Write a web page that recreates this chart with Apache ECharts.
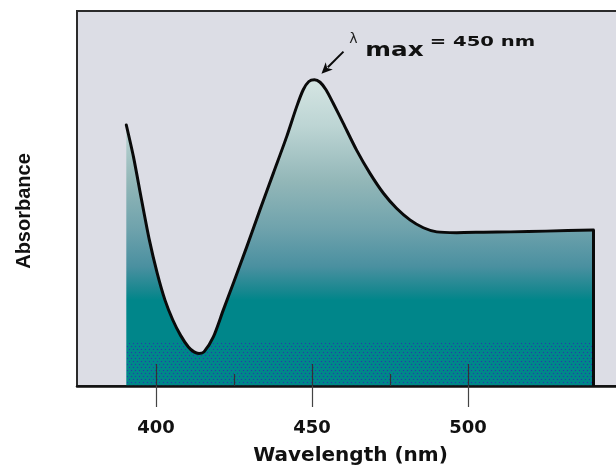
<!DOCTYPE html>
<html><head><meta charset="utf-8">
<script src="https://cdn.jsdelivr.net/npm/echarts@6/dist/echarts.min.js"></script>
<style>html,body{margin:0;padding:0;background:#fff}#c{width:616px;height:466px}</style>
</head><body><div id="c"></div>
<script>
// ---- data ----
const wavelength = [390.5, 392.8, 395.4, 397.9, 400.4, 402.9, 405.4, 407.9, 410.4, 412.2, 413.8, 415.4, 418.4, 421.6, 424.8, 429.1, 433.3, 437.6, 441.9, 445.1, 447.2, 449.0, 450.8, 452.6, 454.5, 456.8, 460.0, 464.3, 468.6, 472.9, 477.1, 481.4, 485.7, 490.0, 496.4, 505.0, 513.7, 525.0, 540.2];
const absorbance = [0.696, 0.611, 0.496, 0.389, 0.301, 0.229, 0.176, 0.135, 0.104, 0.091, 0.087, 0.091, 0.131, 0.203, 0.274, 0.371, 0.469, 0.567, 0.665, 0.745, 0.790, 0.812, 0.817, 0.810, 0.790, 0.754, 0.701, 0.629, 0.567, 0.514, 0.474, 0.443, 0.422, 0.411, 0.409, 0.410, 0.411, 0.413, 0.416];
const majorTicks = [400, 450, 500];
const minorTicks = [425, 475];
const lambdaMax = 450;
const dotBand = 0.115;

const xMin = 374.7, xMax = 550;

const curve = wavelength.map((w, i) => [w, absorbance[i]]);
const dotCurve = wavelength.map((w, i) => [w, Math.min(absorbance[i], dotBand)]);
const last = curve[curve.length - 1];
let peakIdx = 0;
absorbance.forEach((v, i) => { if (v > absorbance[peakIdx]) peakIdx = i; });

// dotted texture
const pat = document.createElement('canvas');
pat.width = 8; pat.height = 6;
const pc = pat.getContext('2d');
pc.fillStyle = 'rgba(45,45,175,0.9)';
[[1,1],[5,1],[3,4],[7,4]].forEach(p => pc.fillRect(p[0], p[1], 1, 1));

const chart = echarts.init(document.getElementById('c'), null, {renderer: 'canvas'});

const baseAxis = {
  type: 'value', min: xMin, max: xMax, gridIndex: 0, position: 'bottom',
  splitLine: {show: false}
};

chart.setOption({
  animation: false,
  backgroundColor: '#ffffff',
  grid: {
    left: 77, top: 11, width: 547, height: 375,
    outerBoundsMode: 'none', containLabel: false,
    show: true, backgroundColor: '#dcdde5', borderColor: '#2b2b2b', borderWidth: 2
  },
  xAxis: [
    Object.assign({}, baseAxis, {
      z: 5,
      name: 'Wavelength (nm)', nameLocation: 'middle', nameGap: 60,
      nameTextStyle: {fontFamily: 'DejaVu Sans', fontWeight: 'bold', fontSize: 20, color: '#111'},
      axisLine: {show: true, lineStyle: {color: '#111', width: 2.5}},
      axisTick: {show: true, inside: false, length: 21, customValues: majorTicks, lineStyle: {color: '#444', width: 1.2}},
      axisLabel: {show: true, customValues: majorTicks, margin: 33, fontFamily: 'DejaVu Sans', fontWeight: 'bold', fontSize: 18, color: '#111'}
    }),
    Object.assign({}, baseAxis, {
      z: 5,
      axisLine: {show: false},
      axisTick: {show: true, inside: true, length: 22, customValues: majorTicks, lineStyle: {color: '#333', width: 1.2}},
      axisLabel: {show: false}
    }),
    Object.assign({}, baseAxis, {
      z: 5,
      axisLine: {show: false},
      axisTick: {show: true, inside: true, length: 12, customValues: minorTicks, lineStyle: {color: '#333', width: 1.2}},
      axisLabel: {show: false}
    })
  ],
  yAxis: {
    type: 'value', min: 0, max: 1,
    axisLine: {show: false}, axisTick: {show: false}, axisLabel: {show: false}, splitLine: {show: false},
    name: 'Absorbance', nameLocation: 'middle', nameGap: 43,
    nameTextStyle: {fontFamily: '"Liberation Sans", Arial, sans-serif', fontWeight: 'bold', fontSize: 20, color: '#111', padding: [0, 25, 0, 0]}
  },
  series: [
    {
      type: 'line', data: curve, smooth: 0.25, symbol: 'none', z: 2,
      lineStyle: {width: 0},
      areaStyle: {
        opacity: 1,
        color: {type: 'linear', x: 0, y: 0, x2: 0, y2: 1, colorStops: [
          {offset: 0, color: '#d5e5e3'},
          {offset: 0.15, color: '#bdd5d4'},
          {offset: 0.33, color: '#93b7b8'},
          {offset: 0.49, color: '#6ea2ac'},
          {offset: 0.61, color: '#4a90a0'},
          {offset: 0.69, color: '#17878f'},
          {offset: 0.72, color: '#00868a'},
          {offset: 1, color: '#00868a'}
        ]}
      }
    },
    {
      type: 'line', data: dotCurve, smooth: 0.25, symbol: 'none', z: 2,
      lineStyle: {width: 0},
      areaStyle: {opacity: 1, color: {image: pat, repeat: 'repeat'}}
    },
    {
      type: 'line', data: curve, smooth: 0.25, symbol: 'none', z: 3,
      lineStyle: {width: 3, color: '#0a0a0a', cap: 'round', join: 'round'},
      markLine: {
        silent: true, symbol: 'none', label: {show: false},
        lineStyle: {type: 'solid', color: '#0a0a0a', width: 3},
        data: [[{coord: [last[0], last[1]]}, {coord: [last[0], 0]}]]
      }
    }
  ]
});

// annotation placed relative to the peak
const pk = chart.convertToPixel({xAxisIndex: 0, yAxisIndex: 0}, curve[peakIdx]);
const px = pk[0], py = pk[1];
const tip = [px + 7, py - 6], tail = [px + 29, py - 28];
const dx = tip[0] - tail[0], dy = tip[1] - tail[1];
const L = Math.sqrt(dx * dx + dy * dy), ux = dx / L, uy = dy / L;
const hl = 11, hw = 5;
const bx = tip[0] - ux * hl, by = tip[1] - uy * hl;
chart.setOption({
  graphic: [
    {type: 'line', z: 10, shape: {x1: tail[0], y1: tail[1], x2: bx + ux * 2, y2: by + uy * 2}, style: {stroke: '#0a0a0a', lineWidth: 2}},
    {type: 'polygon', z: 10, shape: {points: [tip, [bx - uy * hw, by + ux * hw], [bx + ux * 3, by + uy * 3], [bx + uy * hw, by - ux * hw]]}, style: {fill: '#0a0a0a'}},
    {type: 'text', z: 10, x: px + 39, y: py - 33, style: {text: 'λ', fontFamily: 'DejaVu Sans', fontSize: 14, fill: '#222', align: 'center', verticalAlign: 'bottom'}},
    {type: 'text', z: 10, x: px + 80, y: py - 19, scaleX: 1.3, style: {text: 'max', fontFamily: 'DejaVu Sans', fontWeight: 'bold', fontSize: 19, fill: '#111', align: 'center', verticalAlign: 'bottom'}},
    {type: 'text', z: 10, x: px + 168, y: py - 30, scaleX: 1.4, style: {text: '= ' + lambdaMax + ' nm', fontFamily: 'DejaVu Sans', fontWeight: 'bold', fontSize: 14, fill: '#111', align: 'center', verticalAlign: 'bottom'}}
  ]
});
</script>
</body></html>
